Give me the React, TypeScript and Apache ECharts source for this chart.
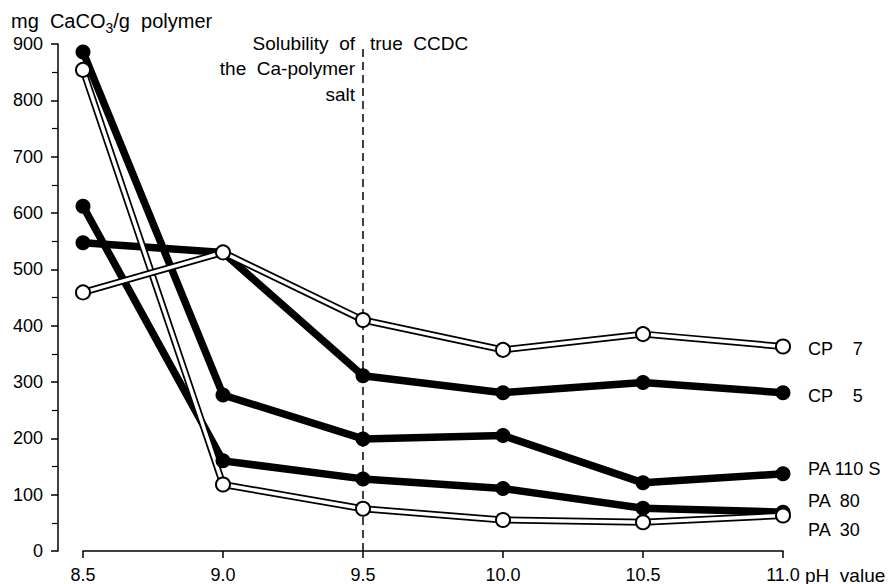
import React, { useEffect, useRef } from "react";
import * as echarts from "echarts";

// pH values (x)
const pH = [8.5, 9.0, 9.5, 10.0, 10.5, 11.0];
// mg CaCO3 / g polymer (y)
const cp7 = [459, 530, 410, 357, 385, 363];
const cp5 = [547, 530, 311, 281, 299, 281];
const pa110s = [886, 277, 199, 205, 121, 137];
const pa80 = [612, 160, 128, 111, 76, 69];
const pa30 = [854, 118, 75, 55, 51, 63];

const seriesLabels = {
  cp7: "CP    7",
  cp5: "CP    5",
  pa110s: "PA 110 S",
  pa80: "PA  80",
  pa30: "PA  30",
};

const ccdcPH = 9.5;
const annotationLeft = ["Solubility  of", "the  Ca-polymer", "salt"];
const annotationRight = "true  CCDC";
const xAxisName = "pH  value";

const FONT = "'Liberation Sans', Arial, Helvetica, sans-serif";

const pairs = (ys: number[]) => pH.map((x, i) => [x, ys[i]]);

const endLabel = (text: string, dy: number) => ({
  show: true,
  formatter: text,
  color: "#000",
  fontSize: 18,
  fontFamily: FONT,
  distance: 25,
  offset: [0, dy],
});

const filledSeries = (ys: number[], text: string, dy: number, extra: any = {}) => ({
  type: "line",
  data: pairs(ys),
  symbol: "circle",
  symbolSize: 15,
  showSymbol: true,
  lineStyle: { color: "#000", width: 7.5 },
  itemStyle: { color: "#000" },
  endLabel: endLabel(text, dy),
  silent: true,
  ...extra,
});

const openSeries = (ys: number[], text: string, dy: number) => [
  {
    type: "line",
    data: pairs(ys),
    symbol: "none",
    lineStyle: { color: "#000", width: 7 },
    silent: true,
  },
  {
    type: "line",
    data: pairs(ys),
    symbol: "circle",
    symbolSize: 14,
    showSymbol: true,
    lineStyle: { color: "#fff", width: 3.5 },
    itemStyle: { color: "#fff", borderColor: "#000", borderWidth: 2 },
    endLabel: endLabel(text, dy),
    silent: true,
  },
];

export default function App() {
  const ref = useRef<HTMLDivElement>(null);

  useEffect(() => {
    if (!ref.current) return;
    const chart = echarts.init(ref.current, undefined, { renderer: "svg" });
    const textStyle = { fill: "#000", fontSize: 19, fontFamily: FONT };
    chart.setOption({
      animation: false,
      backgroundColor: "#fff",
      grid: { left: 83, right: 108, top: 44, bottom: 32, containLabel: false },
      xAxis: {
        type: "value",
        min: 8.5,
        max: 11,
        interval: 0.5,
        axisLine: { show: true, onZero: false, lineStyle: { color: "#000", width: 1.5 } },
        axisTick: { show: true, length: 7, lineStyle: { color: "#000", width: 1.5 } },
        axisLabel: {
          color: "#000",
          fontSize: 18,
          fontFamily: FONT,
          margin: 15,
          formatter: (v: number) => v.toFixed(1),
        },
        splitLine: { show: false },
      },
      yAxis: {
        type: "value",
        min: 0,
        max: 900,
        interval: 100,
        offset: 25,
        axisLine: { show: true, lineStyle: { color: "#000", width: 1.5 } },
        axisTick: { show: true, length: 7, lineStyle: { color: "#000", width: 1.5 } },
        minorTick: { show: true, splitNumber: 2, length: 6, lineStyle: { color: "#000", width: 1.2 } },
        axisLabel: { color: "#000", fontSize: 18, fontFamily: FONT, margin: 15 },
        splitLine: { show: false },
      },
      series: [
        filledSeries(pa110s, seriesLabels.pa110s, -5, {
          markLine: {
            silent: true,
            z: 1,
            symbol: ["none", "none"],
            label: { show: false },
            lineStyle: { type: [8, 5], color: "#000", width: 1.5 },
            data: [{ xAxis: ccdcPH }],
          },
        }),
        filledSeries(pa80, seriesLabels.pa80, -11),
        filledSeries(cp5, seriesLabels.cp5, 3),
        ...openSeries(pa30, seriesLabels.pa30, 14),
        ...openSeries(cp7, seriesLabels.cp7, 2),
      ],
      graphic: [
        {
          type: "text",
          x: 11,
          y: 7,
          silent: true,
          style: {
            text: "{a|mg  CaCO}{b|3}{a|/g  polymer}",
            align: "left",
            verticalAlign: "top",
            rich: {
              a: { fontSize: 20, fontFamily: FONT, fill: "#000", lineHeight: 28, verticalAlign: "middle" },
              b: { fontSize: 14, fontFamily: FONT, fill: "#000", lineHeight: 14, verticalAlign: "bottom" },
            },
          },
        },
        ...annotationLeft.map((t, i) => ({
          type: "text",
          x: 355,
          y: 43 + i * 25.5,
          silent: true,
          style: { ...textStyle, text: t, align: "right", verticalAlign: "middle" },
        })),
        {
          type: "text",
          x: 370,
          y: 43,
          silent: true,
          style: { ...textStyle, text: annotationRight, align: "left", verticalAlign: "middle" },
        },
        {
          type: "text",
          x: 805,
          y: 575,
          silent: true,
          style: { ...textStyle, text: xAxisName, align: "left", verticalAlign: "middle" },
        },
      ],
    });
    return () => chart.dispose();
  }, []);

  return (
    <div
      ref={ref}
      style={{ position: "fixed", left: 0, top: 0, width: 891, height: 584, background: "#fff" }}
    />
  );
}
